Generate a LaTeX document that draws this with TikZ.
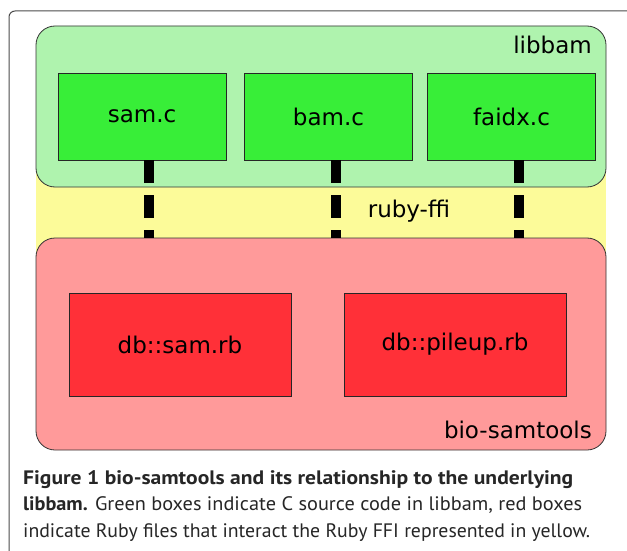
\documentclass[tikz,border=0pt]{standalone}
\usepackage{fontspec}
\setmainfont{DejaVu Sans}
\newfontfamily\capfont{PT Sans}
\definecolor{lgreen}{HTML}{AFF3AE}
\definecolor{bgreen}{HTML}{38EE38}
\definecolor{lyellow}{HTML}{FCFB99}
\definecolor{lred}{HTML}{FF9A9A}
\definecolor{bred}{HTML}{FF3038}
\newsavebox\capbox
\newcommand\fitline[2]{\sbox\capbox{#2}\pgfmathsetmacro\fitratio{(#1)/(\the\wd\capbox)}\scalebox{\fitratio}[1]{\usebox\capbox}}
\tikzset{
  group/.style={draw=black!80, line width=0.8pt, rounded corners=19pt},
  filebox/.style={draw=black!85, line width=0.9pt, font=\fontsize{23}{27}\selectfont, inner sep=0pt},
  gfile/.style={filebox, fill=bgreen, minimum width=168pt, minimum height=87pt},
  rfile/.style={filebox, fill=bred, minimum width=222pt, minimum height=103pt},
  lbl/.style={font=\fontsize{23}{27}\selectfont, inner sep=0pt},
  ffi/.style={line width=10pt, dash pattern=on 23pt off 12pt},
  capline/.style={font=\capfont\fontsize{19.5}{24}\selectfont, text=black!85, inner sep=0pt, anchor=base west}
}
\begin{document}
\begin{tikzpicture}[x=1pt,y=-1pt]
\useasboundingbox (0,0) rectangle (627,551);
\fill[white] (0,0) rectangle (627,551);
% outer frame
\draw[black!70, line width=1pt, rounded corners=6pt] (9,560) -- (9,11) -- (640,11);
% yellow ffi band
\fill[lyellow] (36,150) rectangle (606,270);
% libbam group
\node[group, fill=lgreen, minimum width=570pt, minimum height=161pt, inner sep=0pt] (lib) at (321,106.5) {};
\node[lbl, anchor=base east] (libl) at (592,54) {libbam};
\node[gfile] (samc) at (142,116.5) {sam.c};
\node[gfile] (bamc) at (328.5,116.5) {bam.c};
\node[gfile] (faidx) at (511.5,116.5) {faidx.c};
% bio-samtools group
\node[group, fill=lred, minimum width=570pt, minimum height=212pt, inner sep=0pt] (bio) at (321,344) {};
\node[lbl, anchor=base east] (biol) at (592,438) {bio-samtools};
\node[rfile] (samrb) at (180,344.5) {db::sam.rb};
\node[rfile] (pileup) at (455,344.5) {db::pileup.rb};
% ffi label
\node[lbl] (ffil) at (409,211) {ruby-ffi};
% connectors
\foreach \n in {samc,bamc,faidx}{
  \draw[ffi] ([xshift=7pt]\n.south) -- ([xshift=7pt]\n.south |- bio.north);
}
% caption
\node[capline] (c1) at (23,484) {\fitline{550pt}{\bfseries Figure 1 bio-samtools and its relationship to the underlying}};
\node[capline] (c2) at (23,510) {\fitline{559pt}{\textbf{libbam.} Green boxes indicate C source code in libbam, red boxes}};
\node[capline] (c3) at (23,537) {\fitline{567pt}{indicate Ruby files that interact the Ruby FFI represented in yellow.}};
\end{tikzpicture}
\end{document}
